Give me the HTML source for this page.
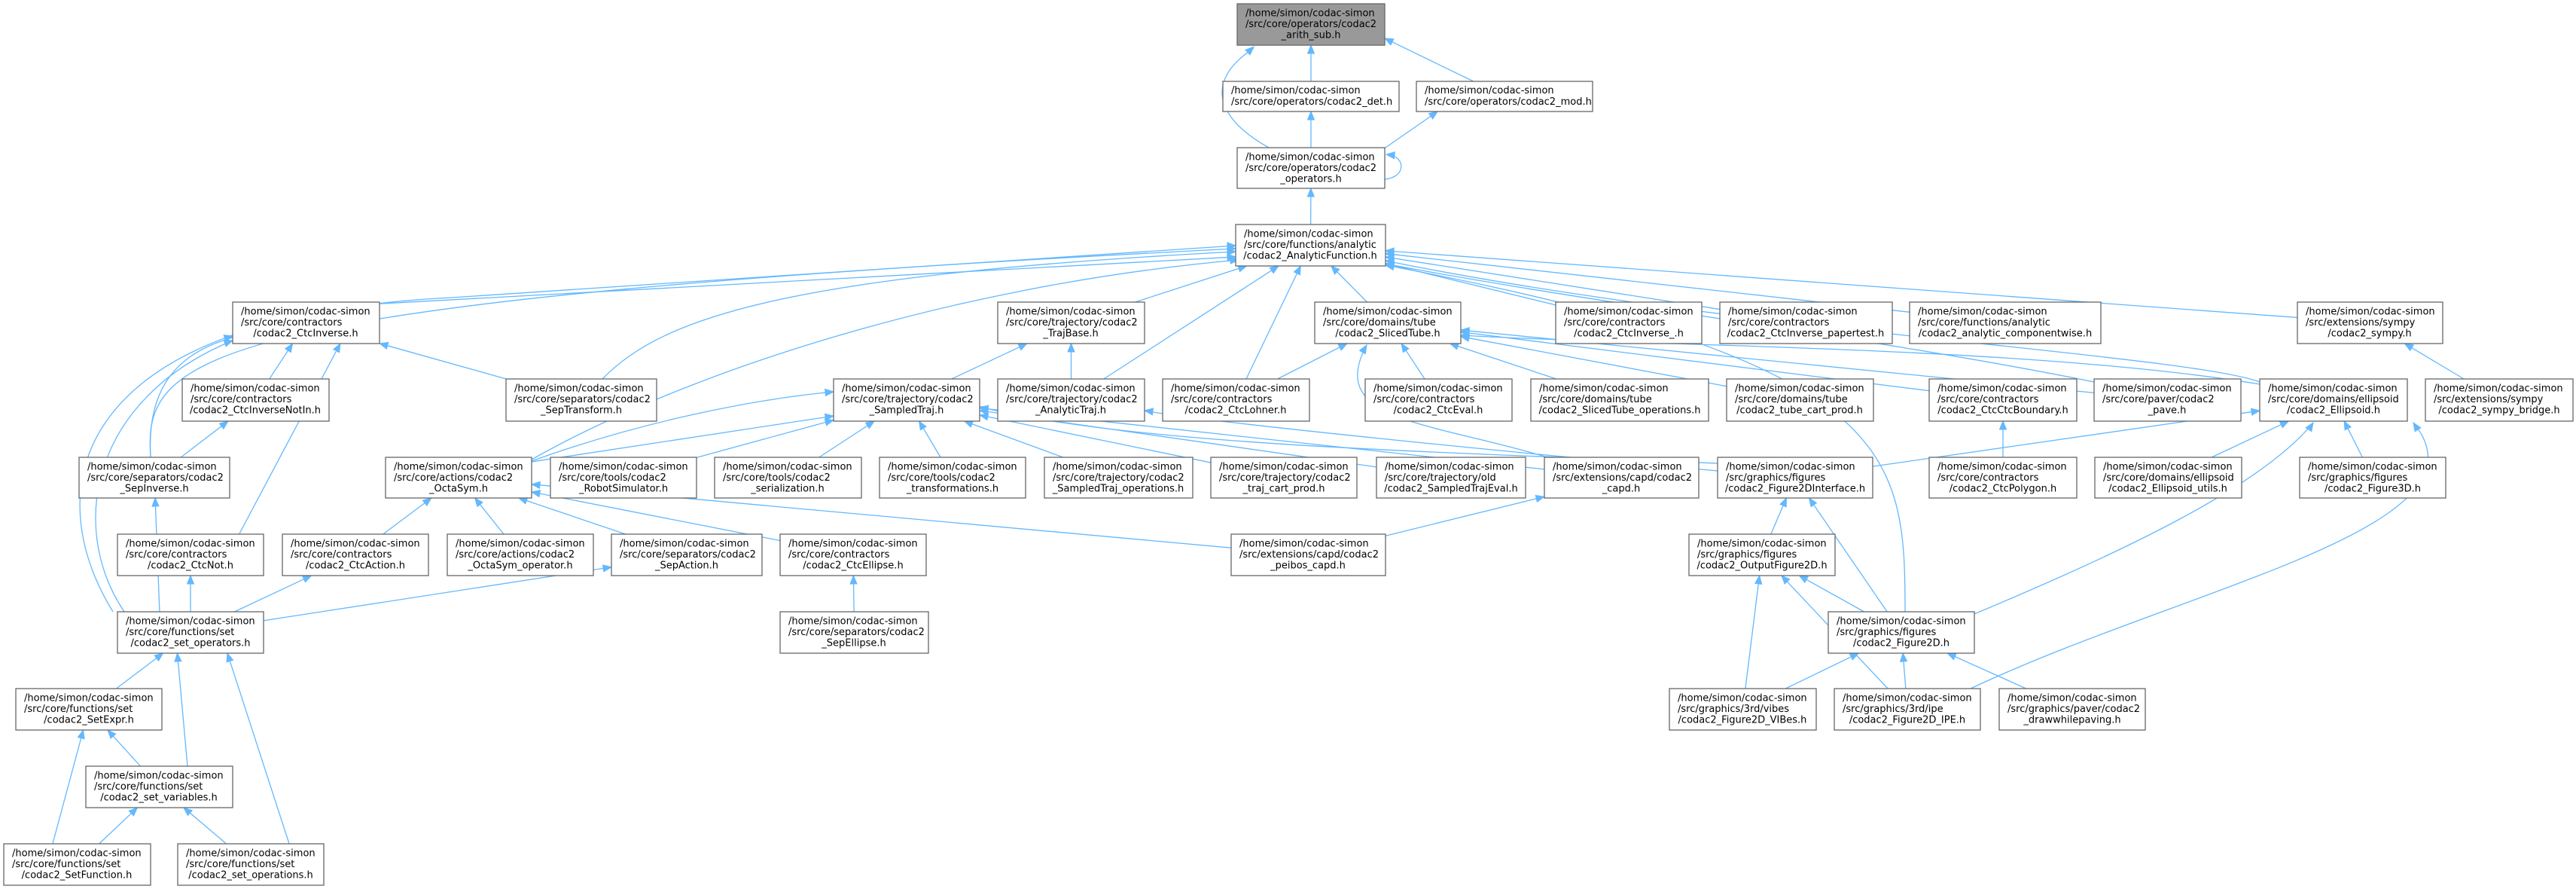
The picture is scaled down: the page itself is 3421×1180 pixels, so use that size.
<!DOCTYPE html>
<html><head><meta charset="utf-8">
<style>
html,body{margin:0;padding:0;background:#fff;}
svg{display:block;}
text{font-family:"DejaVu Sans","Liberation Sans",sans-serif;font-size:13px;fill:#000;}
</style></head>
<body>
<svg id="g" width="3421" height="1180" viewBox="0 0 3421 1180" xmlns="http://www.w3.org/2000/svg">
<g id="edges" fill="none" stroke="#63b8ff" stroke-width="1.3"></g>
<g id="heads" fill="#63b8ff" stroke="#63b8ff"></g>
<g id="nodes" stroke="#666" stroke-width="1.3">
<rect x="1643" y="5" width="196" height="55" fill="#999"/>
<rect x="1624" y="108" width="234" height="40" fill="#fff"/>
<rect x="1881" y="108" width="234" height="40" fill="#fff"/>
<rect x="1643" y="196" width="196" height="54" fill="#fff"/>
<rect x="1641" y="298" width="199" height="55" fill="#fff"/>
<rect x="309" y="401" width="195" height="55" fill="#fff"/>
<rect x="1325" y="401" width="195" height="55" fill="#fff"/>
<rect x="1746" y="401" width="194" height="55" fill="#fff"/>
<rect x="2066" y="401" width="194" height="55" fill="#fff"/>
<rect x="2284" y="401" width="229" height="55" fill="#fff"/>
<rect x="2536" y="401" width="254" height="55" fill="#fff"/>
<rect x="3051" y="401" width="193" height="55" fill="#fff"/>
<rect x="242" y="503" width="195" height="56" fill="#fff"/>
<rect x="672" y="503" width="200" height="56" fill="#fff"/>
<rect x="1107" y="503" width="194" height="56" fill="#fff"/>
<rect x="1325" y="503" width="195" height="56" fill="#fff"/>
<rect x="1544" y="503" width="195" height="56" fill="#fff"/>
<rect x="1813" y="503" width="195" height="56" fill="#fff"/>
<rect x="2033" y="503" width="236" height="56" fill="#fff"/>
<rect x="2293" y="503" width="195" height="56" fill="#fff"/>
<rect x="2562" y="503" width="196" height="56" fill="#fff"/>
<rect x="2781" y="503" width="195" height="56" fill="#fff"/>
<rect x="3001" y="503" width="196" height="56" fill="#fff"/>
<rect x="3221" y="503" width="196" height="56" fill="#fff"/>
<rect x="105" y="607" width="200" height="54" fill="#fff"/>
<rect x="512" y="607" width="194" height="54" fill="#fff"/>
<rect x="731" y="607" width="194" height="54" fill="#fff"/>
<rect x="949" y="607" width="195" height="54" fill="#fff"/>
<rect x="1168" y="607" width="194" height="54" fill="#fff"/>
<rect x="1387" y="607" width="197" height="54" fill="#fff"/>
<rect x="1608" y="607" width="194" height="54" fill="#fff"/>
<rect x="1828" y="607" width="198" height="54" fill="#fff"/>
<rect x="2051" y="607" width="205" height="54" fill="#fff"/>
<rect x="2281" y="607" width="206" height="54" fill="#fff"/>
<rect x="2562" y="607" width="196" height="54" fill="#fff"/>
<rect x="2782" y="607" width="195" height="54" fill="#fff"/>
<rect x="3054" y="607" width="194" height="54" fill="#fff"/>
<rect x="156" y="709" width="194" height="55" fill="#fff"/>
<rect x="375" y="709" width="194" height="55" fill="#fff"/>
<rect x="594" y="709" width="194" height="55" fill="#fff"/>
<rect x="812" y="709" width="200" height="55" fill="#fff"/>
<rect x="1036" y="709" width="194" height="55" fill="#fff"/>
<rect x="1635" y="709" width="205" height="55" fill="#fff"/>
<rect x="2243" y="709" width="194" height="55" fill="#fff"/>
<rect x="156" y="812" width="194" height="55" fill="#fff"/>
<rect x="1036" y="812" width="197" height="55" fill="#fff"/>
<rect x="2428" y="812" width="194" height="55" fill="#fff"/>
<rect x="21" y="914" width="194" height="55" fill="#fff"/>
<rect x="2217" y="914" width="195" height="55" fill="#fff"/>
<rect x="2436" y="914" width="194" height="55" fill="#fff"/>
<rect x="2655" y="914" width="194" height="55" fill="#fff"/>
<rect x="114" y="1017" width="195" height="55" fill="#fff"/>
<rect x="5" y="1120" width="195" height="55" fill="#fff"/>
<rect x="236" y="1120" width="194" height="55" fill="#fff"/>
</g>
<g id="labels">
<text x="1654" y="21.5">/home/simon/codac-simon</text><text x="1654" y="36">/src/core/operators/codac2</text><text x="1741" y="50.5" text-anchor="middle">_arith_sub.h</text>
<text x="1635" y="124">/home/simon/codac-simon</text><text x="1635" y="139">/src/core/operators/codac2_det.h</text>
<text x="1892" y="124">/home/simon/codac-simon</text><text x="1892" y="139">/src/core/operators/codac2_mod.h</text>
<text x="1654" y="212.5">/home/simon/codac-simon</text><text x="1654" y="227">/src/core/operators/codac2</text><text x="1741" y="241.5" text-anchor="middle">_operators.h</text>
<text x="1652" y="314.5">/home/simon/codac-simon</text><text x="1652" y="329">/src/core/functions/analytic</text><text x="1740" y="343.5" text-anchor="middle">/codac2_AnalyticFunction.h</text>
<text x="320" y="417.5">/home/simon/codac-simon</text><text x="320" y="432">/src/core/contractors</text><text x="406" y="446.5" text-anchor="middle">/codac2_CtcInverse.h</text>
<text x="1336" y="417.5">/home/simon/codac-simon</text><text x="1336" y="432">/src/core/trajectory/codac2</text><text x="1422" y="446.5" text-anchor="middle">_TrajBase.h</text>
<text x="1757" y="417.5">/home/simon/codac-simon</text><text x="1757" y="432">/src/core/domains/tube</text><text x="1843" y="446.5" text-anchor="middle">/codac2_SlicedTube.h</text>
<text x="2077" y="417.5">/home/simon/codac-simon</text><text x="2077" y="432">/src/core/contractors</text><text x="2163" y="446.5" text-anchor="middle">/codac2_CtcInverse_.h</text>
<text x="2295" y="417.5">/home/simon/codac-simon</text><text x="2295" y="432">/src/core/contractors</text><text x="2398" y="446.5" text-anchor="middle">/codac2_CtcInverse_papertest.h</text>
<text x="2547" y="417.5">/home/simon/codac-simon</text><text x="2547" y="432">/src/core/functions/analytic</text><text x="2663" y="446.5" text-anchor="middle">/codac2_analytic_componentwise.h</text>
<text x="3062" y="417.5">/home/simon/codac-simon</text><text x="3062" y="432">/src/extensions/sympy</text><text x="3147" y="446.5" text-anchor="middle">/codac2_sympy.h</text>
<text x="253" y="519.5">/home/simon/codac-simon</text><text x="253" y="534">/src/core/contractors</text><text x="339" y="548.5" text-anchor="middle">/codac2_CtcInverseNotIn.h</text>
<text x="683" y="519.5">/home/simon/codac-simon</text><text x="683" y="534">/src/core/separators/codac2</text><text x="772" y="548.5" text-anchor="middle">_SepTransform.h</text>
<text x="1118" y="519.5">/home/simon/codac-simon</text><text x="1118" y="534">/src/core/trajectory/codac2</text><text x="1204" y="548.5" text-anchor="middle">_SampledTraj.h</text>
<text x="1336" y="519.5">/home/simon/codac-simon</text><text x="1336" y="534">/src/core/trajectory/codac2</text><text x="1422" y="548.5" text-anchor="middle">_AnalyticTraj.h</text>
<text x="1555" y="519.5">/home/simon/codac-simon</text><text x="1555" y="534">/src/core/contractors</text><text x="1641" y="548.5" text-anchor="middle">/codac2_CtcLohner.h</text>
<text x="1824" y="519.5">/home/simon/codac-simon</text><text x="1824" y="534">/src/core/contractors</text><text x="1910" y="548.5" text-anchor="middle">/codac2_CtcEval.h</text>
<text x="2044" y="519.5">/home/simon/codac-simon</text><text x="2044" y="534">/src/core/domains/tube</text><text x="2151" y="548.5" text-anchor="middle">/codac2_SlicedTube_operations.h</text>
<text x="2304" y="519.5">/home/simon/codac-simon</text><text x="2304" y="534">/src/core/domains/tube</text><text x="2390" y="548.5" text-anchor="middle">/codac2_tube_cart_prod.h</text>
<text x="2573" y="519.5">/home/simon/codac-simon</text><text x="2573" y="534">/src/core/contractors</text><text x="2660" y="548.5" text-anchor="middle">/codac2_CtcCtcBoundary.h</text>
<text x="2792" y="519.5">/home/simon/codac-simon</text><text x="2792" y="534">/src/core/paver/codac2</text><text x="2878" y="548.5" text-anchor="middle">_pave.h</text>
<text x="3012" y="519.5">/home/simon/codac-simon</text><text x="3012" y="534">/src/core/domains/ellipsoid</text><text x="3099" y="548.5" text-anchor="middle">/codac2_Ellipsoid.h</text>
<text x="3232" y="519.5">/home/simon/codac-simon</text><text x="3232" y="534">/src/extensions/sympy</text><text x="3319" y="548.5" text-anchor="middle">/codac2_sympy_bridge.h</text>
<text x="116" y="623.5">/home/simon/codac-simon</text><text x="116" y="638">/src/core/separators/codac2</text><text x="205" y="652.5" text-anchor="middle">_SepInverse.h</text>
<text x="523" y="623.5">/home/simon/codac-simon</text><text x="523" y="638">/src/core/actions/codac2</text><text x="609" y="652.5" text-anchor="middle">_OctaSym.h</text>
<text x="742" y="623.5">/home/simon/codac-simon</text><text x="742" y="638">/src/core/tools/codac2</text><text x="828" y="652.5" text-anchor="middle">_RobotSimulator.h</text>
<text x="960" y="623.5">/home/simon/codac-simon</text><text x="960" y="638">/src/core/tools/codac2</text><text x="1046" y="652.5" text-anchor="middle">_serialization.h</text>
<text x="1179" y="623.5">/home/simon/codac-simon</text><text x="1179" y="638">/src/core/tools/codac2</text><text x="1265" y="652.5" text-anchor="middle">_transformations.h</text>
<text x="1398" y="623.5">/home/simon/codac-simon</text><text x="1398" y="638">/src/core/trajectory/codac2</text><text x="1485" y="652.5" text-anchor="middle">_SampledTraj_operations.h</text>
<text x="1619" y="623.5">/home/simon/codac-simon</text><text x="1619" y="638">/src/core/trajectory/codac2</text><text x="1705" y="652.5" text-anchor="middle">_traj_cart_prod.h</text>
<text x="1839" y="623.5">/home/simon/codac-simon</text><text x="1839" y="638">/src/core/trajectory/old</text><text x="1927" y="652.5" text-anchor="middle">/codac2_SampledTrajEval.h</text>
<text x="2062" y="623.5">/home/simon/codac-simon</text><text x="2062" y="638">/src/extensions/capd/codac2</text><text x="2153" y="652.5" text-anchor="middle">_capd.h</text>
<text x="2292" y="623.5">/home/simon/codac-simon</text><text x="2292" y="638">/src/graphics/figures</text><text x="2384" y="652.5" text-anchor="middle">/codac2_Figure2DInterface.h</text>
<text x="2573" y="623.5">/home/simon/codac-simon</text><text x="2573" y="638">/src/core/contractors</text><text x="2660" y="652.5" text-anchor="middle">/codac2_CtcPolygon.h</text>
<text x="2793" y="623.5">/home/simon/codac-simon</text><text x="2793" y="638">/src/core/domains/ellipsoid</text><text x="2879" y="652.5" text-anchor="middle">/codac2_Ellipsoid_utils.h</text>
<text x="3065" y="623.5">/home/simon/codac-simon</text><text x="3065" y="638">/src/graphics/figures</text><text x="3151" y="652.5" text-anchor="middle">/codac2_Figure3D.h</text>
<text x="167" y="725.5">/home/simon/codac-simon</text><text x="167" y="740">/src/core/contractors</text><text x="253" y="754.5" text-anchor="middle">/codac2_CtcNot.h</text>
<text x="386" y="725.5">/home/simon/codac-simon</text><text x="386" y="740">/src/core/contractors</text><text x="472" y="754.5" text-anchor="middle">/codac2_CtcAction.h</text>
<text x="605" y="725.5">/home/simon/codac-simon</text><text x="605" y="740">/src/core/actions/codac2</text><text x="691" y="754.5" text-anchor="middle">_OctaSym_operator.h</text>
<text x="823" y="725.5">/home/simon/codac-simon</text><text x="823" y="740">/src/core/separators/codac2</text><text x="912" y="754.5" text-anchor="middle">_SepAction.h</text>
<text x="1047" y="725.5">/home/simon/codac-simon</text><text x="1047" y="740">/src/core/contractors</text><text x="1133" y="754.5" text-anchor="middle">/codac2_CtcEllipse.h</text>
<text x="1646" y="725.5">/home/simon/codac-simon</text><text x="1646" y="740">/src/extensions/capd/codac2</text><text x="1737" y="754.5" text-anchor="middle">_peibos_capd.h</text>
<text x="2254" y="725.5">/home/simon/codac-simon</text><text x="2254" y="740">/src/graphics/figures</text><text x="2340" y="754.5" text-anchor="middle">/codac2_OutputFigure2D.h</text>
<text x="167" y="828.5">/home/simon/codac-simon</text><text x="167" y="843">/src/core/functions/set</text><text x="253" y="857.5" text-anchor="middle">/codac2_set_operators.h</text>
<text x="1047" y="828.5">/home/simon/codac-simon</text><text x="1047" y="843">/src/core/separators/codac2</text><text x="1134" y="857.5" text-anchor="middle">_SepEllipse.h</text>
<text x="2439" y="828.5">/home/simon/codac-simon</text><text x="2439" y="843">/src/graphics/figures</text><text x="2525" y="857.5" text-anchor="middle">/codac2_Figure2D.h</text>
<text x="32" y="930.5">/home/simon/codac-simon</text><text x="32" y="945">/src/core/functions/set</text><text x="118" y="959.5" text-anchor="middle">/codac2_SetExpr.h</text>
<text x="2228" y="930.5">/home/simon/codac-simon</text><text x="2228" y="945">/src/graphics/3rd/vibes</text><text x="2314" y="959.5" text-anchor="middle">/codac2_Figure2D_VIBes.h</text>
<text x="2447" y="930.5">/home/simon/codac-simon</text><text x="2447" y="945">/src/graphics/3rd/ipe</text><text x="2533" y="959.5" text-anchor="middle">/codac2_Figure2D_IPE.h</text>
<text x="2666" y="930.5">/home/simon/codac-simon</text><text x="2666" y="945">/src/graphics/paver/codac2</text><text x="2752" y="959.5" text-anchor="middle">_drawwhilepaving.h</text>
<text x="125" y="1033.5">/home/simon/codac-simon</text><text x="125" y="1048">/src/core/functions/set</text><text x="211" y="1062.5" text-anchor="middle">/codac2_set_variables.h</text>
<text x="16" y="1136.5">/home/simon/codac-simon</text><text x="16" y="1151">/src/core/functions/set</text><text x="102" y="1165.5" text-anchor="middle">/codac2_SetFunction.h</text>
<text x="247" y="1136.5">/home/simon/codac-simon</text><text x="247" y="1151">/src/core/functions/set</text><text x="333" y="1165.5" text-anchor="middle">/codac2_set_operations.h</text>
</g>
</svg>
<script>
var N={
arith:[1643,5,1839,60],det:[1624,108,1858,148],mod:[1881,108,2115,148],ops:[1643,196,1839,250],AF:[1641,298,1840,353],
CtcInv:[309,401,504,456],TrajBase:[1325,401,1520,456],Sliced:[1746,401,1940,456],CtcInv_:[2066,401,2260,456],paper:[2284,401,2513,456],comp:[2536,401,2790,456],sympy:[3051,401,3244,456],
NotIn:[242,503,437,559],SepTr:[672,503,872,559],STraj:[1107,503,1301,559],ATraj:[1325,503,1520,559],Lohner:[1544,503,1739,559],Eval:[1813,503,2008,559],STops:[2033,503,2269,559],tubecart:[2293,503,2488,559],CtcB:[2562,503,2758,559],pave:[2781,503,2976,559],Ell:[3001,503,3197,559],bridge:[3221,503,3417,559],
SepInv:[105,607,305,661],Octa:[512,607,706,661],Robot:[731,607,925,661],serial:[949,607,1144,661],transf:[1168,607,1362,661],STrajOps:[1387,607,1584,661],trajcart:[1608,607,1802,661],STEval:[1828,607,2026,661],capd:[2051,607,2256,661],F2DI:[2281,607,2487,661],Poly:[2562,607,2758,661],EllU:[2782,607,2977,661],F3D:[3054,607,3248,661],
CtcNot:[156,709,350,764],CtcAct:[375,709,569,764],OctaOp:[594,709,788,764],SepAct:[812,709,1012,764],CtcEll:[1036,709,1230,764],peibos:[1635,709,1840,764],OutF:[2243,709,2437,764],
setops:[156,812,350,867],SepEll:[1036,812,1233,867],F2D:[2428,812,2622,867],
SetExpr:[21,914,215,969],VIBes:[2217,914,2412,969],IPE:[2436,914,2630,969],draw:[2655,914,2849,969],
setvars:[114,1017,309,1072],SetFn:[5,1120,200,1175],setopn:[236,1120,430,1175]};
function c(n){var b=N[n];return [(b[0]+b[2])/2,(b[1]+b[3])/2];}
function clip(b,p,q){
 var dx=q[0]-p[0],dy=q[1]-p[1],t=1e9;
 if(dx>0)t=Math.min(t,(b[2]-p[0])/dx); if(dx<0)t=Math.min(t,(b[0]-p[0])/dx);
 if(dy>0)t=Math.min(t,(b[3]-p[1])/dy); if(dy<0)t=Math.min(t,(b[1]-p[1])/dy);
 return [p[0]+dx*t,p[1]+dy*t];}
var E=document.getElementById('edges'),H=document.getElementById('heads'),NS='http://www.w3.org/2000/svg';
function head(p,e){var dx=e[0]-p[0],dy=e[1]-p[1],l=Math.hypot(dx,dy)||1;dx/=l;dy/=l;
 var bx=e[0]-dx*11,by=e[1]-dy*11,px=-dy*4.5,py=dx*4.5;
 var g=document.createElementNS(NS,'polygon');g.setAttribute('points',e[0]+','+e[1]+' '+(bx+px)+','+(by+py)+' '+(bx-px)+','+(by-py));H.appendChild(g);
 return [bx,by];}
function S(a,b,oa,ob){
 var ca=c(a),cb=c(b);if(oa){ca=[ca[0]+oa[0],ca[1]+oa[1]];}if(ob){cb=[cb[0]+ob[0],cb[1]+ob[1]];}
 var s=clip(N[a],ca,cb),e=clip(N[b],cb,ca);var bb=head(s,e);
 var p=document.createElementNS(NS,'path');p.setAttribute('d','M'+s[0]+','+s[1]+'L'+bb[0]+','+bb[1]);E.appendChild(p);}
function C(d,pc,e){
 head(pc,e);var p=document.createElementNS(NS,'path');p.setAttribute('d',d);E.appendChild(p);}
S('det','arith');S('mod','arith',[0,0],[60,0]);S('ops','det');S('ops','mod',[60,0],[-60,0]);S('AF','ops');
C('M1685,196 C1620,160 1595,110 1665,64',[1630,95],[1665,62]);
C('M1839,238 C1868,235 1866,208 1845,206',[1860,207],[1841,205]);
['CtcInv_','paper','comp','sympy','TrajBase','ATraj','Lohner','Sliced'].forEach(function(n){S(n,'AF');});
S('CtcInv','AF',[0,-20],[0,10]);
C('M800,503 C880,420 1050,365 1641,334',[1300,343],[1641,334]);
C('M706,610 C900,500 1250,380 1645,345',[1450,356],[1645,345]);
C('M200,607 C190,470 260,400 1641,330',[1000,345],[1641,330]);
C('M150,812 C50,650 90,420 600,395 L1641,326',[1200,340],[1641,326]);
C('M3001,507 C2900,470 2300,440 1840,346',[2100,390],[1840,346]);
C('M2781,507 C2500,450 2100,400 1840,350',[2000,372],[1840,350]);
C('M2530,812 C2530,600 2520,480 1840,352',[2100,400],[1840,352]);
S('bridge','sympy');
S('NotIn','CtcInv');S('SepTr','CtcInv');S('SepInv','NotIn');S('CtcNot','CtcInv',[50,0],[60,0]);
C('M200,607 C195,520 230,470 309,448',[260,460],[309,446]);
C('M165,812 C90,700 120,530 309,452',[230,480],[309,452]);
S('STraj','TrajBase');S('ATraj','TrajBase');
['Robot','serial','transf','STrajOps','trajcart','STEval','capd'].forEach(function(n){S(n,'STraj');});
C('M706,612 C850,560 1000,530 1107,520',[1050,525],[1107,520]);
S('Octa','STraj',[90,-20],[-90,20]);
C('M2281,625 C2000,600 1600,560 1520,545',[1560,550],[1520,545]);
C('M2281,615 C1900,600 1500,590 1301,540',[1330,548],[1301,540]);
['Lohner','Eval','STops','tubecart','CtcB','pave'].forEach(function(n){S(n,'Sliced');});
C('M3001,510 C2700,460 2200,460 1940,445',[2100,448],[1940,445]);
C('M2055,607 C1900,560 1760,560 1815,458',[1790,500],[1815,458]);
S('CtcAct','Octa');S('OctaOp','Octa');S('SepAct','Octa');S('CtcEll','Octa');S('peibos','Octa');
S('peibos','capd');S('SepEll','CtcEll');S('Poly','CtcB');
S('setops','SepInv',[-40,0],[0,0]);S('setops','CtcNot');S('setops','CtcAct');S('setops','SepAct',[60,-10],[-60,10]);
S('SetExpr','setops');S('setvars','setops',[40,0],[-20,0]);S('setopn','setops',[60,0],[40,0]);
S('setvars','SetExpr');S('SetFn','SetExpr',[-40,0],[0,0]);S('SetFn','setvars');S('setopn','setvars');
S('F2DI','Ell');S('EllU','Ell');S('F3D','Ell');
C('M2622,815 C2800,740 3000,650 3072,561',[3040,610],[3072,561]);
C('M2617,914 C2900,780 3320,700 3205,561',[3230,600],[3205,561]);
S('OutF','F2DI');S('F2D','F2DI');
S('VIBes','OutF');S('IPE','OutF');S('F2D','OutF');
S('VIBes','F2D');S('IPE','F2D');S('draw','F2D');
</script>
</body></html>
